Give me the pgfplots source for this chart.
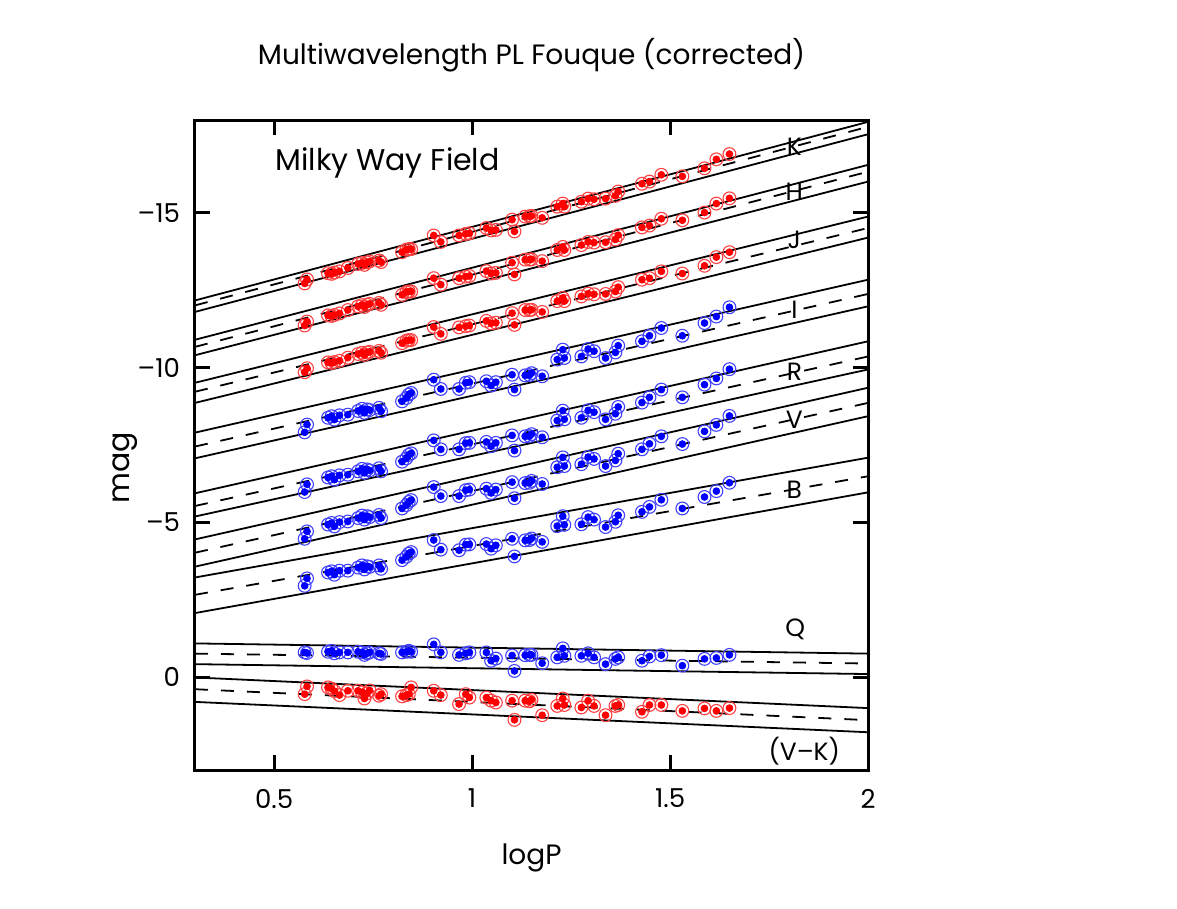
\documentclass[border=0pt]{standalone}
\usepackage{fontspec}
\setmainfont{Poppins}
\usepackage{pgfplots}
\pgfplotsset{compat=1.18}
\usepackage{pgfplotstable}

\pgfplotstableread{
logP   B     V     R     I      J      H      K      Q     VK
0.577 -2.95 -4.47 -5.98 -7.91  -9.85  -11.36 -12.72 -0.80 0.55
0.583 -3.19 -4.71 -6.23 -8.16  -9.98  -11.49 -12.85 -0.78 0.30
0.636 -3.38 -4.93 -6.45 -8.38  -10.17 -11.69 -13.05 -0.82 0.33
0.645 -3.42 -4.98 -6.49 -8.43  -10.15 -11.67 -13.03 -0.85 0.37
0.652 -3.31 -4.87 -6.38 -8.32  -10.18 -11.70 -13.07 -0.77 0.45
0.665 -3.44 -5.01 -6.52 -8.46  -10.22 -11.75 -13.11 -0.80 0.58
0.686 -3.44 -5.03 -6.54 -8.48  -10.32 -11.86 -13.22 -0.80 0.44
0.712 -3.54 -5.14 -6.65 -8.60  -10.44 -11.98 -13.35 -0.82 0.44
0.722 -3.61 -5.22 -6.73 -8.67  -10.48 -12.02 -13.38 -0.80 0.49
0.728 -3.48 -5.09 -6.60 -8.54  -10.41 -11.96 -13.32 -0.72 0.69
0.735 -3.58 -5.20 -6.71 -8.65  -10.49 -12.03 -13.40 -0.77 0.52
0.741 -3.56 -5.17 -6.68 -8.63  -10.51 -12.06 -13.43 -0.80 0.43
0.765 -3.61 -5.24 -6.75 -8.70  -10.54 -12.09 -13.46 -0.77 0.60
0.770 -3.50 -5.14 -6.65 -8.59  -10.48 -12.03 -13.41 -0.75 0.55
0.823 -3.78 -5.45 -6.96 -8.91  -10.79 -12.35 -13.73 -0.80 0.62
0.834 -3.89 -5.56 -7.07 -9.02  -10.87 -12.44 -13.81 -0.82 0.58
0.840 -3.99 -5.66 -7.18 -9.13  -10.89 -12.46 -13.83 -0.85 0.55
0.846 -4.04 -5.72 -7.23 -9.18  -10.89 -12.46 -13.83 -0.82 0.33
0.903 -4.43 -6.14 -7.65 -9.61  -11.31 -12.89 -14.27 -1.06 0.44
0.921 -4.12 -5.85 -7.36 -9.31  -11.09 -12.68 -14.06 -0.80 0.58
0.967 -4.10 -5.85 -7.36 -9.31  -11.30 -12.89 -14.27 -0.72 0.87
0.984 -4.28 -6.04 -7.56 -9.51  -11.34 -12.94 -14.32 -0.77 0.55
0.993 -4.29 -6.06 -7.57 -9.53  -11.36 -12.96 -14.34 -0.80 0.66
1.036 -4.30 -6.09 -7.60 -9.56  -11.51 -13.12 -14.51 -0.80 0.66
1.048 -4.15 -5.95 -7.46 -9.42  -11.43 -13.04 -14.43 -0.53 0.76
1.060 -4.26 -6.06 -7.57 -9.53  -11.45 -13.06 -14.45 -0.60 0.82
1.101 -4.47 -6.30 -7.81 -9.77  -11.76 -13.39 -14.78 -0.70 0.76
1.107 -3.90 -5.78 -7.32 -9.29  -11.38 -13.01 -14.40 -0.20 1.38
1.134 -4.42 -6.27 -7.78 -9.75  -11.86 -13.49 -14.88 -0.71 0.76
1.145 -4.43 -6.28 -7.79 -9.76  -11.86 -13.49 -14.89 -0.72 0.78
1.150 -4.48 -6.34 -7.85 -9.82  -11.87 -13.50 -14.90 -0.72 0.73
1.177 -4.37 -6.24 -7.75 -9.72  -11.80 -13.44 -14.84 -0.45 1.23
1.215 -4.88 -6.78 -8.29 -10.26 -12.15 -13.80 -15.20 -0.64 0.93
1.229 -5.20 -7.10 -8.61 -10.58 -12.25 -13.90 -15.30 -0.93 0.69
1.233 -4.92 -6.82 -8.33 -10.31 -12.15 -13.80 -15.20 -0.69 0.90
1.276 -4.94 -6.88 -8.38 -10.36 -12.30 -13.96 -15.36 -0.69 0.98
1.293 -5.17 -7.11 -8.62 -10.60 -12.39 -14.06 -15.46 -0.77 0.76
1.308 -5.09 -7.05 -8.56 -10.53 -12.37 -14.04 -15.44 -0.64 0.93
1.337 -4.85 -6.82 -8.33 -10.31 -12.38 -14.05 -15.46 -0.42 1.23
1.362 -5.02 -7.00 -8.51 -10.49 -12.46 -14.14 -15.55 -0.59 0.93
1.369 -5.23 -7.22 -8.73 -10.71 -12.60 -14.28 -15.69 -0.64 0.90
1.429 -5.34 -7.36 -8.87 -10.85 -12.84 -14.53 -15.94 -0.53 1.12
1.448 -5.50 -7.54 -9.04 -11.03 -12.89 -14.59 -16.01 -0.67 0.90
1.478 -5.73 -7.78 -9.29 -11.28 -13.11 -14.81 -16.23 -0.71 0.90
1.531 -5.45 -7.53 -9.04 -11.03 -13.04 -14.76 -16.18 -0.37 1.09
1.587 -5.82 -7.94 -9.45 -11.44 -13.29 -15.01 -16.44 -0.59 1.01
1.617 -6.01 -8.15 -9.65 -11.65 -13.57 -15.30 -16.73 -0.62 1.09
1.650 -6.28 -8.44 -9.95 -11.95 -13.73 -15.47 -16.90 -0.72 1.00
}\stars

% fit lines: value at logP=0.3 and logP=2 (upper, mean, lower)
\pgfplotstableread{
x    Kt     Km     Kb     Ht     Hm     Hb     Jt     Jm     Jb     It     Im     Ib     Rt     Rm     Rb     Vt    Vm    Vb    Bt    Bm    Bb    Qt    Qm    Qb    VKt  VKm  VKb
0.3 -12.17 -12.01 -11.80 -10.90 -10.67 -10.40 -9.51  -9.22  -8.86  -7.90  -7.45  -7.07  -5.94  -5.53  -5.19  -4.45 -4.02 -3.57 -3.22 -2.66 -2.07 -1.09 -0.76 -0.42 0.01 0.39 0.80
2.0 -17.94 -17.78 -17.54 -16.55 -16.33 -16.01 -14.88 -14.51 -14.20 -12.84 -12.38 -11.98 -10.85 -10.36 -9.94  -9.35 -8.86 -8.43 -7.09 -6.49 -5.97 -0.76 -0.44 -0.10 1.00 1.39 1.78
}\fits

\definecolor{ptred}{RGB}{255,0,0}
\definecolor{ptblue}{RGB}{0,0,255}

\pgfplotsset{
  ring/.style={only marks, mark=o, mark size=3.2pt, mark options={line width=0.55pt}},
  dot/.style={only marks, mark=*, mark size=1.7pt},
  fitline/.style={black, line width=0.9pt, no marks},
  fitdash/.style={black, line width=0.9pt, no marks, dash pattern=on 6.5pt off 6.5pt},
}

\begin{document}
\begin{tikzpicture}
\begin{axis}[
  scale only axis,
  width=336.5pt, height=325pt,
  xmin=0.3, xmax=2, ymin=-18, ymax=3,
  y dir=reverse,
  axis line style={line width=1.5pt},
  tick align=inside, major tick length=7.5pt,
  tick style={line width=1.5pt, black},
  minor tick num=0,
  xtick={0.5,1,1.5,2}, xticklabels={0.5,1,1.5,2},
  ytick={-15,-10,-5,0}, yticklabels={\textendash15,\textendash10,\textendash5,0},
  /pgf/number format/assume math mode=true,
  ticklabel style={font=\fontsize{13}{15}\selectfont},
  xticklabel style={yshift=-6pt},
  yticklabel style={xshift=-4pt},
  clip=false,
]
\foreach \c in {K,H,J} {
  \addplot[ring, ptred!75] table[x=logP, y=\c] {\stars};
  \addplot[dot, ptred] table[x=logP, y=\c] {\stars};
}
\addplot[ring, ptred!75] table[x=logP, y=VK] {\stars};
\addplot[dot, ptred] table[x=logP, y=VK] {\stars};
\foreach \c in {I,R,V,B,Q} {
  \addplot[ring, ptblue!75] table[x=logP, y=\c] {\stars};
  \addplot[dot, ptblue] table[x=logP, y=\c] {\stars};
}
\foreach \c in {K,H,J,I,R,V,B,Q,VK} {
  \addplot[fitline] table[x=x, y=\c t] {\fits};
  \addplot[fitdash] table[x=x, y=\c m] {\fits};
  \addplot[fitline] table[x=x, y=\c b] {\fits};
}
\begin{scope}[every node/.style={font=\fontsize{12.5}{14}\selectfont}]
\node at (axis cs:1.814,-17.13) {K};
\node at (axis cs:1.814,-15.68) {H};
\node at (axis cs:1.814,-14.13) {J};
\node at (axis cs:1.814,-11.87) {I};
\node at (axis cs:1.814,-9.87) {R};
\node at (axis cs:1.814,-8.32) {V};
\node at (axis cs:1.814,-6.06) {B};
\node at (axis cs:1.816,-1.55) {Q};
\node at (axis cs:1.839,2.39) {(V\textendash K)};
\end{scope}
\node[anchor=west, inner sep=0pt, font=\fontsize{15}{17}\selectfont] at (axis description cs:0.119,0.934) {Milky Way Field};
\node[font=\fontsize{14}{16}\selectfont] at (axis description cs:0.5,1.1) {Multiwavelength PL Fouque (corrected)};
\node[font=\fontsize{14}{16}\selectfont] at (axis description cs:0.5,-0.135) {logP};
\node[rotate=90, font=\fontsize{15}{17}\selectfont] at (axis description cs:-0.104,0.465) {mag};
\coordinate (sw) at (axis description cs:0,0);
\end{axis}
\pgfresetboundingbox
\path ([shift={(-97.5pt,-69.5pt)}]sw) rectangle ([shift={(491pt,385pt)}]sw);
\end{tikzpicture}
\end{document}
